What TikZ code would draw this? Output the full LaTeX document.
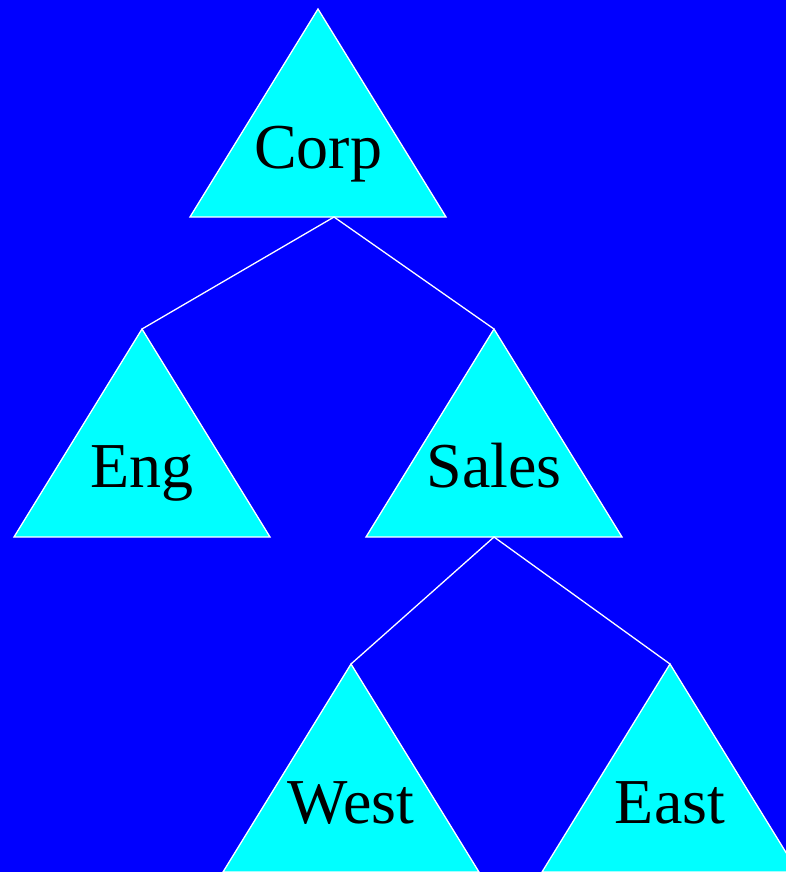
\documentclass[tikz,border=0pt]{standalone}
\usepackage{fontspec}
\setmainfont{Liberation Serif}
\usepackage{tikz}
\usetikzlibrary{positioning,calc}
\definecolor{bgblue}{RGB}{0,0,255}
\definecolor{aqua}{RGB}{0,255,255}
\tikzset{
	x=1pt, y=-1pt,
	tri/.style = {draw=white, fill=aqua, line width=1.3pt},
	lbl/.style = {font=\fontsize{64}{64}\selectfont, text=black, inner sep=0pt, anchor=base},
	link/.style = {draw=white, line width=1.3pt},
}

\begin{document}
\begin{tikzpicture}
	\useasboundingbox (0,0) rectangle (786,872);
	\fill[bgblue] (0,0) rectangle (786,872);
	\clip (0,0) rectangle (786,872);
	% triangles
	\draw[tri] (318,9) coordinate (corp-top) -- ++(128,208) -- ++(-256,0) -- cycle;
	\draw[tri] (142,329) coordinate (eng-top) -- ++(128,208) -- ++(-256,0) -- cycle;
	\draw[tri] (494,329) coordinate (sales-top) -- ++(128,208) -- ++(-256,0) -- cycle;
	\draw[tri] (351,664) coordinate (west-top) -- ++(128,208) -- ++(-256,0) -- cycle;
	\draw[tri] (670,664) coordinate (east-top) -- ++(128,208) -- ++(-256,0) -- cycle;
	\coordinate (corp-bot) at (334,217);
	\coordinate (sales-bot) at (494,537);
	% labels
	\node[lbl] (corp) at (318,168) {Corp};
	\node[lbl] (eng) at (142,487) {Eng};
	\node[lbl] (sales) at (494,487) {Sales};
	\node[lbl] (west) at (351,823) {West};
	\node[lbl] (east) at (670,823) {East};
	% links
	\draw[link] (eng-top) -- (corp-bot) -- (sales-top);
	\draw[link] (west-top) -- (sales-bot) -- (east-top);
\end{tikzpicture}
\end{document}
